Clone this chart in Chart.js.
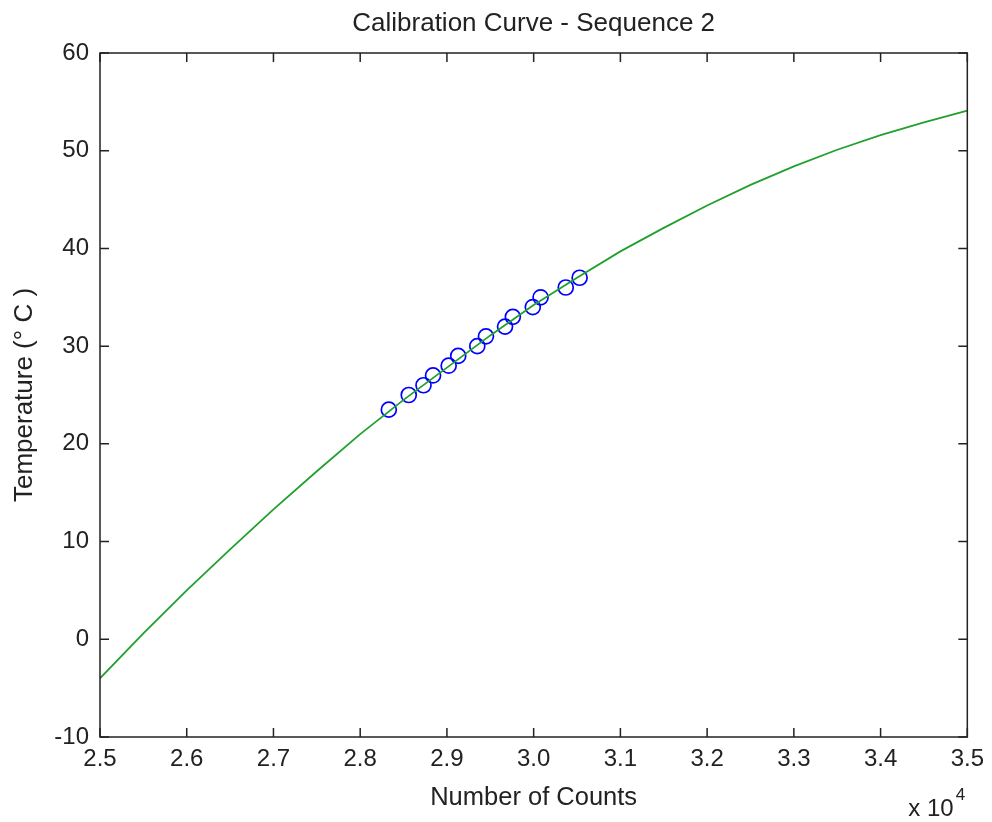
<!DOCTYPE html>
<html>
<head>
<meta charset="utf-8">
<title>Calibration Curve - Sequence 2</title>
<script src="https://cdn.jsdelivr.net/npm/chart.js@4.4.0/dist/chart.umd.min.js"></script>
<style>
html, body { margin: 0; padding: 0; background: #fff; }
</style>
</head>
<body>
<canvas id="calib" width="992" height="822"></canvas>
<script>
// measured points (counts, deg C)
var countsMeasured = [28330, 28560, 28730, 28840, 29020, 29130, 29350, 29450, 29670, 29760, 29990, 30080, 30370, 30530];
var tempMeasured   = [23.5, 25, 26, 27, 28, 29, 30, 31, 32, 33, 34, 35, 36, 37];

// calibration curve
var countsFit = [25000, 25500, 26000, 26500, 27000, 27500, 28000, 28500, 29000, 29500, 30000,
                 30500, 31000, 31500, 32000, 32500, 33000, 33500, 34000, 34500, 35000];
var tempFit   = [-4.0, 0.6, 5.0, 9.2, 13.3, 17.2, 21.0, 24.5, 27.8, 31.1, 34.2,
                 37.0, 39.7, 42.1, 44.4, 46.5, 48.4, 50.1, 51.6, 52.9, 54.1];

// axis ticks
var xTicks = [25000, 26000, 27000, 28000, 29000, 30000, 31000, 32000, 33000, 34000, 35000];
var yTicks = [-10, 0, 10, 20, 30, 40, 50, 60];

var FONT = "'Liberation Sans', Arial, sans-serif";
var INK = '#222222';
var TICK_LEN = 9;

function toPoints(xs, ys){
    var pts = [];
    for (var i = 0; i < xs.length; i++) {
        pts.push({x: xs[i], y: ys[i]});
    }
    return pts;
}

// box round the plot, inward ticks on all four sides, and the x10^4 multiplier
var boxPlugin = {
    id: 'matlabBox',
    afterDatasetsDraw: function(chart){
        var ctx = chart.ctx;
        var a = chart.chartArea;
        var xs = chart.scales.x, ys = chart.scales.y;
        ctx.save();
        ctx.strokeStyle = INK;
        ctx.lineWidth = 1.5;
        ctx.strokeRect(a.left, a.top, a.right - a.left, a.bottom - a.top);
        ctx.beginPath();
        xTicks.forEach(function(v){
            var px = xs.getPixelForValue(v);
            ctx.moveTo(px, a.bottom); ctx.lineTo(px, a.bottom - TICK_LEN);
            ctx.moveTo(px, a.top);    ctx.lineTo(px, a.top + TICK_LEN);
        });
        yTicks.forEach(function(v){
            var py = ys.getPixelForValue(v);
            ctx.moveTo(a.left, py);  ctx.lineTo(a.left + TICK_LEN, py);
            ctx.moveTo(a.right, py); ctx.lineTo(a.right - TICK_LEN, py);
        });
        ctx.stroke();

        ctx.fillStyle = INK;
        ctx.textBaseline = 'alphabetic';
        ctx.textAlign = 'left';
        ctx.font = '24px ' + FONT;
        var base = 'x 10';
        var bx = a.right - 59;
        ctx.fillText(base, bx, 816);
        var w = ctx.measureText(base).width;
        ctx.font = '17px ' + FONT;
        ctx.fillText('4', bx + w + 2, 800);
        ctx.restore();
    }
};

var ctx = document.getElementById('calib').getContext('2d');
var chart = new Chart(ctx, {
    type: 'scatter',
    data: {
        datasets: [
            {
                label: 'fit',
                data: toPoints(countsFit, tempFit),
                showLine: true,
                borderColor: '#22a02e',
                borderWidth: 1.8,
                pointRadius: 0,
                tension: 0,
                order: 0
            },
            {
                label: 'measured',
                data: toPoints(countsMeasured, tempMeasured),
                showLine: false,
                pointStyle: 'circle',
                pointRadius: 7.5,
                pointBorderWidth: 1.7,
                pointBorderColor: '#0000ff',
                pointBackgroundColor: 'rgba(0,0,0,0)',
                order: 1
            }
        ]
    },
    options: {
        responsive: false,
        animation: false,
        layout: { padding: { left: 0, right: 22, top: 0, bottom: 0 } },
        plugins: {
            legend: { display: false },
            tooltip: { enabled: false },
            title: {
                display: true,
                fullSize: false,
                text: 'Calibration Curve - Sequence 2',
                color: INK,
                font: { family: FONT, size: 26, weight: 'normal' },
                padding: { top: 8, bottom: 13.8 }
            }
        },
        scales: {
            x: {
                type: 'linear',
                min: 25000,
                max: 35000,
                afterBuildTicks: function(scale){
                    scale.ticks = xTicks.map(function(v){ return {value: v}; });
                },
                afterFit: function(scale){ scale.height = 85; },
                grid: { display: false, drawTicks: false },
                border: { display: false },
                ticks: {
                    color: INK,
                    padding: 8,
                    maxRotation: 0,
                    font: { family: FONT, size: 24 },
                    callback: function(v){ return (v / 10000).toFixed(1); }
                },
                title: {
                    display: true,
                    text: 'Number of Counts',
                    color: INK,
                    font: { family: FONT, size: 25.5 },
                    padding: { top: 0, bottom: 9 }
                }
            },
            y: {
                type: 'linear',
                min: -10,
                max: 60,
                afterBuildTicks: function(scale){
                    scale.ticks = yTicks.map(function(v){ return {value: v}; });
                },
                afterFit: function(scale){ scale.width = 100; },
                grid: { display: false, drawTicks: false },
                border: { display: false },
                ticks: {
                    color: INK,
                    padding: 11,
                    font: { family: FONT, size: 24 }
                },
                title: {
                    display: true,
                    text: 'Temperature (° C )',
                    color: INK,
                    font: { family: FONT, size: 26 },
                    padding: { top: 9, bottom: 0 }
                }
            }
        }
    },
    plugins: [boxPlugin]
});
</script>
</body>
</html>
